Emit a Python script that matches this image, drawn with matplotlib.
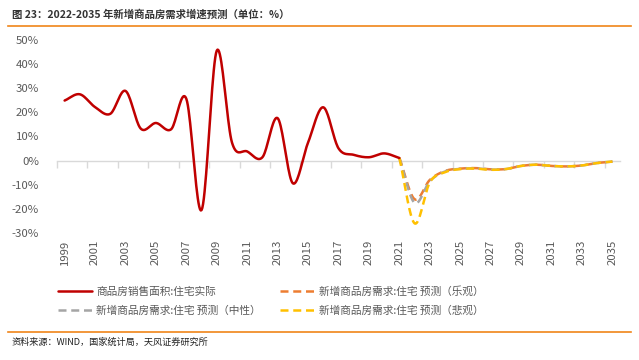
import numpy as np
import matplotlib
matplotlib.use("Agg")
import matplotlib.pyplot as plt
from matplotlib.lines import Line2D

plt.rcParams['font.family'] = ['Noto Sans CJK SC', 'DejaVu Sans']

years = list(range(1999, 2036))
actual = [24.9, 27.5, 22.2, 19.4, 28.9, 13.3, 15.6, 13.0, 25.6, -20.5, 45.6, 7.5, 3.8,
          1.4, 17.6, -9.4, 7.5, 22.1, 5.1, 2.4, 1.4, 3.0, 1.1]
fc_years = list(range(2021, 2036))
optimistic = [1.1, -16.0, -8.0, -4.3, -3.3, -3.1, -3.6, -3.5, -2.2, -1.7, -2.2, -2.4, -2.0, -1.0, -0.4]
neutral = [1.1, -17.5, -8.5, -4.5, -3.4, -3.2, -3.7, -3.5, -2.2, -1.7, -2.2, -2.4, -2.0, -1.0, -0.4]
pessimistic = [1.1, -26.0, -9.0, -4.8, -3.5, -3.3, -3.8, -3.5, -2.2, -1.7, -2.2, -2.4, -2.0, -1.0, -0.4]
ytick_vals = [-30, -20, -10, 0, 10, 20, 30, 40, 50]

names = ['商品房销售面积:住宅实际', '新增商品房需求:住宅 预测（乐观）',
         '新增商品房需求:住宅 预测（中性）', '新增商品房需求:住宅 预测（悲观）']


def smooth(xs, ys, n=20):
    """Catmull-Rom rendering of a line through the given points (Excel-like smoothing)."""
    xs = np.asarray(xs, float); ys = np.asarray(ys, float)
    px = np.concatenate([[2 * xs[0] - xs[1]], xs, [2 * xs[-1] - xs[-2]]])
    py = np.concatenate([[2 * ys[0] - ys[1]], ys, [2 * ys[-1] - ys[-2]]])
    ox, oy = [], []
    t = np.linspace(0, 1, n, endpoint=False)
    for i in range(1, len(px) - 2):
        p0, p1, p2, p3 = py[i - 1], py[i], py[i + 1], py[i + 2]
        x0, x1, x2, x3 = px[i - 1], px[i], px[i + 1], px[i + 2]
        for (a0, a1, a2, a3, out) in ((x0, x1, x2, x3, ox), (p0, p1, p2, p3, oy)):
            out.extend(0.5 * ((2 * a1) + (-a0 + a2) * t + (2 * a0 - 5 * a1 + 4 * a2 - a3) * t ** 2
                              + (-a0 + 3 * a1 - 3 * a2 + a3) * t ** 3))
    ox.append(xs[-1]); oy.append(ys[-1])
    return np.array(ox), np.array(oy)


fig = plt.figure(figsize=(6.39, 3.60), dpi=100)
ax = fig.add_axes([57 / 639, 1 - 233 / 360, (620 - 57) / 639, (233 - 40) / 360])

idx = {y: i for i, y in enumerate(years)}
xa = [idx[y] for y in years[:len(actual)]]
xf = [idx[y] for y in fc_years]

lw = 1.8
dash = (0, (3.2, 1.9))
x, y = smooth(xf, optimistic)
l_opt, = ax.plot(x, y, color='#ED7D31', lw=lw, linestyle=dash, zorder=3)
x, y = smooth(xf, neutral)
l_neu, = ax.plot(x, y, color='#A5A5A5', lw=lw, linestyle=dash, zorder=3)
x, y = smooth(xf, pessimistic)
l_pes, = ax.plot(x, y, color='#FFC000', lw=lw, linestyle=dash, zorder=4)
x, y = smooth(xa, actual)
l_act, = ax.plot(x, y, color='#C00000', lw=lw, solid_capstyle='round', zorder=5)

ax.set_xlim(-0.5, len(years) - 0.5)
ax.set_ylim(-30, 50)
ax.set_yticks(ytick_vals)
ax.set_yticklabels([f'{v}%' for v in ytick_vals])
for s in ['top', 'right', 'left']:
    ax.spines[s].set_visible(False)
ax.spines['bottom'].set_position(('data', 0))
ax.spines['bottom'].set_color('#D9D9D9')
ax.spines['bottom'].set_linewidth(1.0)
ax.set_xticks(np.arange(-0.5, len(years) - 0.5, 2))
ax.tick_params(axis='x', direction='out', length=5, width=1.0, color='#D9D9D9', labelbottom=False)
ax.tick_params(axis='y', length=0, pad=13, labelsize=8.2, labelcolor='#595959')
for lab in ax.get_yticklabels():
    lab.set_horizontalalignment('right')

sec = ax.secondary_xaxis(0)
sec.set_xticks(range(0, len(years), 2))
sec.set_xticklabels([str(y) for y in years[::2]], rotation=90)
sec.tick_params(length=0, pad=5, labelsize=8.2, labelcolor='#595959')
sec.spines['bottom'].set_visible(False)

leg = fig.legend([l_act, l_neu, l_opt, l_pes], [names[0], names[2], names[1], names[3]],
                 ncol=2, loc='upper left', bbox_to_anchor=(58 / 639, 1 - 286 / 360),
                 frameon=False, fontsize=7.7, handlelength=3.2, handletextpad=0.4,
                 columnspacing=1.8, labelspacing=0.85, borderpad=0, borderaxespad=0)
for t in leg.get_texts():
    t.set_color('#595959')

fig.text(12 / 639, 1 - 15 / 360, '图 23：2022-2035 年新增商品房需求增速预测（单位：%）',
         fontsize=7.5, fontweight='bold', color='#333333', va='center', ha='left')
fig.add_artist(Line2D([8 / 639, 631 / 639], [1 - 25.5 / 360] * 2, color='#F08519', lw=1.2))
fig.add_artist(Line2D([8 / 639, 631 / 639], [1 - 332 / 360] * 2, color='#F08519', lw=1.2))
fig.text(12 / 639, 1 - 342 / 360, '资料来源：WIND，国家统计局，天风证券研究所',
         fontsize=6.6, color='#222222', va='center', ha='left')

fig.savefig('out.png', dpi=100)
